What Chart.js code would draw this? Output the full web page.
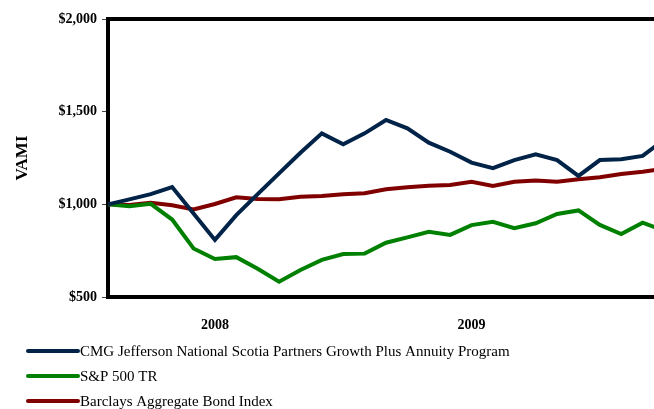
<!DOCTYPE html>
<html>
<head>
<meta charset="utf-8">
<script src="https://cdn.jsdelivr.net/npm/chart.js@4/dist/chart.umd.min.js"></script>
<style>
    html, body { margin: 0; padding: 0; background: #fff; overflow: hidden; }
    #wrap { width: 654px; height: 409px; overflow: hidden; }
    canvas { display: block; }
</style>
</head>
<body>
<div id="wrap"><canvas id="vamiChart" width="664" height="409"></canvas></div>
<script>
// Monthly periods (the picture is cut off on the right)
const months = ['Jun 2008', 'Jul 2008', 'Aug 2008', 'Sep 2008', 'Oct 2008', 'Nov 2008', 'Dec 2008',
    'Jan 2009', 'Feb 2009', 'Mar 2009', 'Apr 2009', 'May 2009', 'Jun 2009', 'Jul 2009', 'Aug 2009',
    'Sep 2009', 'Oct 2009', 'Nov 2009', 'Dec 2009', 'Jan 2010', 'Feb 2010', 'Mar 2010', 'Apr 2010',
    'May 2010', 'Jun 2010', 'Jul 2010', 'Aug 2010'];

const cmgValues = [1000, 1027, 1055, 1093, 950, 808, 942, 1055, 1167, 1278, 1383, 1324, 1383, 1455,
    1410, 1333, 1284, 1225, 1195, 1239, 1270, 1239, 1153, 1239, 1243, 1261, 1348];
const spValues = [1000, 990, 1003, 918, 762, 705, 715, 652, 582, 646, 700, 732, 734, 793,
    822, 852, 835, 888, 906, 871, 898, 948, 967, 889, 840, 901, 858];
const bondValues = [1000, 997, 1008, 995, 972, 1002, 1038, 1029, 1027, 1041, 1045, 1054, 1060, 1081,
    1092, 1100, 1104, 1122, 1099, 1122, 1128, 1122, 1135, 1146, 1164, 1176, 1192];

const yTicks = [500, 1000, 1500, 2000];
const yearLabelMonth = 'Nov';

const serif = "'Liberation Serif', 'Times New Roman', serif";

// Top frame line + stacked legend under the axis
const framePlugin = {
    id: 'frame',
    afterDatasetsDraw(chart) {
        const ctx = chart.ctx;
        const area = chart.chartArea;
        ctx.save();
        ctx.strokeStyle = '#000';
        ctx.lineWidth = 4;
        ctx.beginPath();
        ctx.moveTo(area.left - 2, area.top);
        ctx.lineTo(area.right, area.top);
        ctx.stroke();
        ctx.restore();
    },
    afterDraw(chart) {
        const ctx = chart.ctx;
        ctx.save();
        ctx.font = '15px ' + serif;
        ctx.textBaseline = 'middle';
        ctx.fillStyle = '#000';
        chart.data.datasets.forEach((ds, i) => {
            const y = 351 + i * 25;
            ctx.strokeStyle = ds.borderColor;
            ctx.lineWidth = 4;
            ctx.lineCap = 'round';
            ctx.beginPath();
            ctx.moveTo(28, y);
            ctx.lineTo(78, y);
            ctx.stroke();
            ctx.fillText(ds.label, 80, y + 1);
        });
        ctx.restore();
    }
};

const ctx = document.getElementById('vamiChart').getContext('2d');
const vamiChart = new Chart(ctx, {
    type: 'line',
    data: {
        labels: months,
        datasets: [{
            label: 'CMG Jefferson National Scotia Partners Growth Plus Annuity Program',
            data: cmgValues,
            borderColor: '#002347',
            borderWidth: 4
        }, {
            label: 'S&P 500 TR',
            data: spValues,
            borderColor: '#008000',
            borderWidth: 4
        }, {
            label: 'Barclays Aggregate Bond Index',
            data: bondValues,
            borderColor: '#800000',
            borderWidth: 4
        }]
    },
    options: {
        responsive: false,
        animation: false,
        events: [],
        elements: {
            point: { radius: 0 },
            line: { tension: 0, borderJoinStyle: 'miter' }
        },
        layout: { padding: { left: 0, right: 0, top: 19, bottom: 72 } },
        plugins: {
            legend: { display: false },
            tooltip: { enabled: false }
        },
        scales: {
            x: {
                offset: false,
                afterFit(scale) {
                    scale.height = 40;
                    scale.paddingLeft = 0;
                    scale.paddingRight = 0;
                },
                grid: { display: true, drawOnChartArea: false, drawTicks: false },
                border: { display: true, color: '#000', width: 4 },
                ticks: {
                    autoSkip: false,
                    maxRotation: 0,
                    padding: 20,
                    color: '#000',
                    font: { family: serif, size: 14, weight: 'bold' },
                    callback(value) {
                        const label = this.getLabelForValue(value);
                        return label.startsWith(yearLabelMonth) ? label.slice(-4) : '';
                    }
                }
            },
            y: {
                min: 500,
                max: 2000,
                afterFit(scale) { scale.width = 108; },
                afterBuildTicks(scale) { scale.ticks = yTicks.map(v => ({ value: v })); },
                grid: { drawOnChartArea: false, tickLength: 6, color: '#444', lineWidth: 1 },
                border: { display: true, color: '#000', width: 4 },
                title: {
                    display: true,
                    text: 'VAMI',
                    color: '#000',
                    font: { family: serif, size: 17, weight: 'bold' },
                    padding: { top: 12, bottom: 0 }
                },
                ticks: {
                    padding: 5,
                    color: '#000',
                    font: { family: serif, size: 14, weight: 'bold' },
                    callback: (value) => '$' + value.toLocaleString('en-US')
                }
            }
        }
    },
    plugins: [framePlugin]
});
</script>
</body>
</html>
